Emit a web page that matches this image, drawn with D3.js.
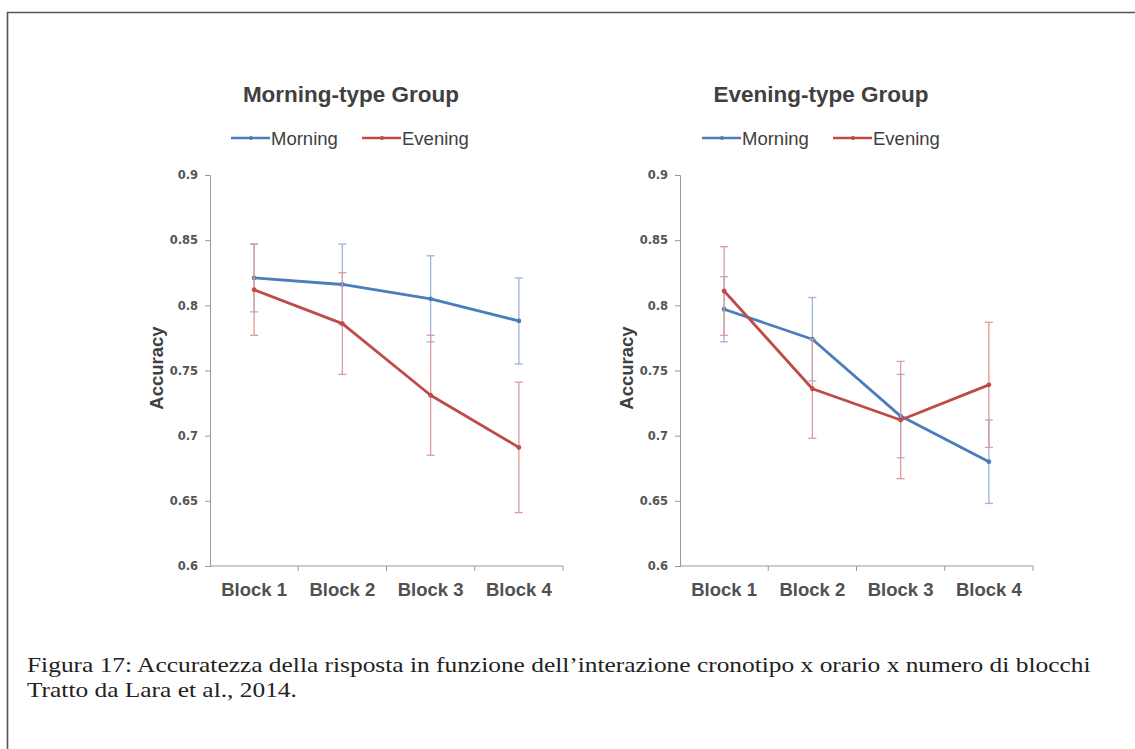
<!DOCTYPE html>
<html>
<head>
<meta charset="utf-8">
<script src="https://cdn.jsdelivr.net/npm/d3@7.9.0/dist/d3.min.js"></script>
<style>
    html, body { margin: 0; padding: 0; background: #fff; }
    svg { display: block; }
</style>
</head>
<body>
<svg id="fig" width="1135" height="749"></svg>
<script>
;(function () {
    // data
    var blocks = ['Block 1', 'Block 2', 'Block 3', 'Block 4']
    var yTicks = [0.6, 0.65, 0.7, 0.75, 0.8, 0.85, 0.9]

    // Morning-type group
    var mtMorning = [0.821, 0.816, 0.805, 0.788]
    var mtMorningErr = [0.026, 0.031, 0.033, 0.033]
    var mtEvening = [0.812, 0.786, 0.731, 0.691]
    var mtEveningErr = [0.035, 0.039, 0.046, 0.050]

    // Evening-type group
    var etMorning = [0.797, 0.774, 0.715, 0.680]
    var etMorningErr = [0.025, 0.032, 0.032, 0.032]
    var etEvening = [0.811, 0.736, 0.712, 0.739]
    var etEveningErr = [0.034, 0.038, 0.045, 0.048]

    var captionLines = [
        'Figura 17: Accuratezza della risposta in funzione dell\u2019interazione cronotipo x orario x numero di blocchi',
        'Tratto da Lara et al., 2014.',
    ]

    var BLUE = '#4a7ebb'
    var RED = '#be4b48'
    var BLUE_ERR = '#9db4d6'
    var RED_ERR = '#dc9a98'
    var SANS = 'Liberation Sans, Arial, sans-serif'

    var svg = d3.select('#fig')

    // frame (only top and left edges are visible in the page crop)
    svg.append('path')
        .attr('d', 'M7.5,749 L7.5,12.5 L1135,12.5')
        .attr('fill', 'none')
        .attr('stroke', '#555')
        .attr('stroke-width', 1.6)

    function panel(opts) {
        var x = d3.scaleBand().domain(blocks).range([opts.x0, opts.x1])
        var y = d3.scaleLinear().domain([0.6, 0.9]).range([566, 175])
        var g = svg.append('g')

        g.append('text')
            .attr('x', opts.cx)
            .attr('y', 102)
            .attr('text-anchor', 'middle')
            .attr('font-family', SANS)
            .attr('font-weight', 'bold')
            .attr('font-size', '22.5px')
            .attr('fill', '#404040')
            .text(opts.title)

        // legend
        var leg = [
            { name: 'Morning', color: BLUE, x: opts.legX },
            { name: 'Evening', color: RED, x: opts.legX + 131 },
        ]
        leg.forEach(function (L) {
            g.append('line')
                .attr('x1', L.x).attr('x2', L.x + 39)
                .attr('y1', 138).attr('y2', 138)
                .attr('stroke', L.color).attr('stroke-width', 2.4)
            g.append('circle')
                .attr('cx', L.x + 20).attr('cy', 138).attr('r', 2)
                .attr('fill', L.color)
            g.append('text')
                .attr('x', L.x + 40)
                .attr('y', 145)
                .attr('font-family', SANS)
                .attr('font-size', '18.5px')
                .attr('fill', '#404040')
                .text(L.name)
        })

        // y axis
        var yAxis = d3.axisLeft(y).tickValues(yTicks).tickSize(5).tickPadding(7)
            .tickFormat(function (d) { return String(+d.toFixed(2)) })
        var ya = g.append('g').attr('transform', 'translate(' + opts.x0 + ',0)').call(yAxis)
        ya.select('.domain').attr('stroke', '#999')
        ya.selectAll('.tick line').attr('stroke', '#999')
        ya.selectAll('.tick text')
            .attr('font-family', 'DejaVu Sans, sans-serif')
            .attr('font-weight', 'bold')
            .attr('font-size', '11.5px')
            .attr('fill', '#555')

        // x axis
        var xa = g.append('g').attr('transform', 'translate(0,566)')
        xa.append('line')
            .attr('x1', opts.x0).attr('x2', opts.x1)
            .attr('stroke', '#999')
        xa.selectAll('line.tk')
            .data(blocks)
            .enter()
            .append('line')
            .attr('class', 'tk')
            .attr('x1', function (d) { return x(d) + x.bandwidth() })
            .attr('x2', function (d) { return x(d) + x.bandwidth() })
            .attr('y1', 0).attr('y2', 5)
            .attr('stroke', '#999')
        xa.selectAll('text')
            .data(blocks)
            .enter()
            .append('text')
            .attr('x', function (d) { return x(d) + x.bandwidth() / 2 })
            .attr('y', 30)
            .attr('text-anchor', 'middle')
            .attr('font-family', SANS)
            .attr('font-weight', 'bold')
            .attr('font-size', '18.5px')
            .attr('fill', '#505050')
            .text(function (d) { return d })

        g.append('text')
            .attr('transform', 'translate(' + (opts.x0 - 47) + ',368) rotate(-90)')
            .attr('text-anchor', 'middle')
            .attr('font-family', SANS)
            .attr('font-weight', 'bold')
            .attr('font-size', '18.5px')
            .attr('fill', '#404040')
            .text('Accuracy')

        function series(vals, errs, color, errColor) {
            var pts = blocks.map(function (b, i) {
                return { b: b, v: vals[i], e: errs[i] }
            })
            var cx = function (d) { return x(d.b) + x.bandwidth() / 2 }
            var eb = g.append('g')
            eb.selectAll('line.v').data(pts).enter().append('line')
                .attr('x1', cx).attr('x2', cx)
                .attr('y1', function (d) { return y(d.v + d.e) })
                .attr('y2', function (d) { return y(d.v - d.e) })
                .attr('stroke', errColor).attr('stroke-width', 1.3)
            ;[1, -1].forEach(function (s) {
                eb.selectAll('line.c' + s).data(pts).enter().append('line')
                    .attr('x1', function (d) { return cx(d) - 4 })
                    .attr('x2', function (d) { return cx(d) + 4 })
                    .attr('y1', function (d) { return y(d.v + s * d.e) })
                    .attr('y2', function (d) { return y(d.v + s * d.e) })
                    .attr('stroke', errColor).attr('stroke-width', 1.3)
            })
            g.append('path')
                .datum(pts)
                .attr('fill', 'none')
                .attr('stroke', color)
                .attr('stroke-width', 2.8)
                .attr('stroke-linejoin', 'round')
                .attr('d', d3.line().x(cx).y(function (d) { return y(d.v) }))
            g.selectAll(null).data(pts).enter().append('circle')
                .attr('cx', cx)
                .attr('cy', function (d) { return y(d.v) })
                .attr('r', 2.4)
                .attr('fill', color)
        }

        series(opts.morning, opts.morningErr, BLUE, BLUE_ERR)
        series(opts.evening, opts.eveningErr, RED, RED_ERR)
    }

    panel({
        title: 'Morning-type Group', cx: 351, legX: 231,
        x0: 210, x1: 563,
        morning: mtMorning, morningErr: mtMorningErr,
        evening: mtEvening, eveningErr: mtEveningErr,
    })
    panel({
        title: 'Evening-type Group', cx: 821, legX: 702,
        x0: 680, x1: 1033,
        morning: etMorning, morningErr: etMorningErr,
        evening: etEvening, eveningErr: etEveningErr,
    })

    // caption: the scan is stretched sideways, so widen the glyphs a little
    var cap = svg.append('g')
        .attr('transform', 'translate(27,0) scale(1.21,1)')
        .append('text')
        .attr('font-family', 'Liberation Serif, Times New Roman, serif')
        .attr('font-size', '21px')
        .attr('fill', '#222')
    captionLines.forEach(function (line, i) {
        cap.append('tspan').attr('x', 0).attr('y', 672 + i * 25.5).text(line)
    })
})()
</script>
</body>
</html>
